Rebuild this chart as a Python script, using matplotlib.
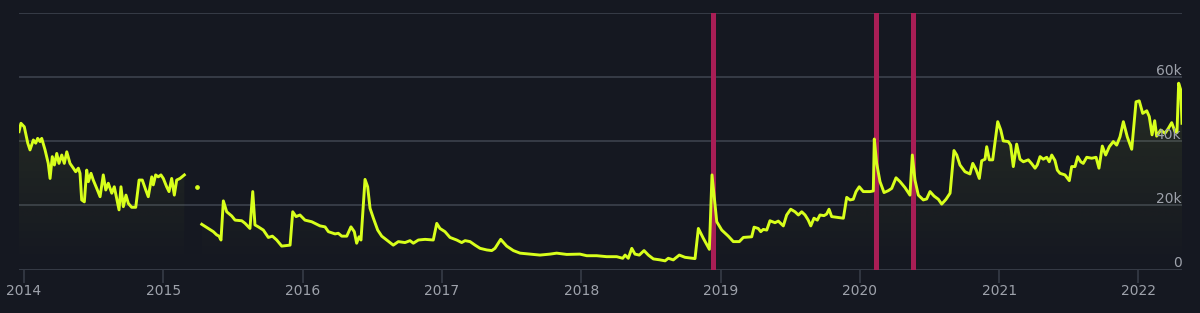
import numpy as np
import matplotlib
matplotlib.use("Agg")
import matplotlib.pyplot as plt
import matplotlib.transforms as mtransforms

# ---- data (decimal years, values in thousands) ----
seg1_t = [2013.964, 2013.978, 2014.002, 2014.027, 2014.043, 2014.067, 2014.084, 2014.098, 2014.115, 2014.127,
          2014.151, 2014.174, 2014.187, 2014.203, 2014.218, 2014.235, 2014.251, 2014.271, 2014.289, 2014.307,
          2014.330, 2014.354, 2014.371, 2014.390, 2014.402, 2014.414, 2014.433, 2014.450, 2014.462, 2014.481,
          2014.497, 2014.522, 2014.546, 2014.569, 2014.587, 2014.605, 2014.630, 2014.648, 2014.665, 2014.682,
          2014.696, 2014.713, 2014.732, 2014.749, 2014.773, 2014.802, 2014.826, 2014.849, 2014.874, 2014.892,
          2014.917, 2014.928, 2014.945, 2014.964, 2014.983, 2015.000, 2015.024, 2015.041, 2015.060, 2015.079,
          2015.096, 2015.120, 2015.151]
seg1_v = [43, 45.6, 44.5, 39.4, 37.3, 40.4, 39.4, 40.9, 39.9, 40.9,
          37.3, 33.1, 28.4, 35.2, 32.6, 36.2, 33.1, 35.7, 33.1, 36.7,
          33.1, 31.6, 30.5, 31.6, 30.0, 21.7, 21.1, 31.0, 27.4, 30.0,
          27.9, 25.3, 22.7, 29.5, 24.8, 26.9, 23.8, 25.8, 22.2, 18.6,
          25.8, 19.6, 23.2, 20.6, 19.4, 19.4, 27.9, 27.9, 24.8, 22.7,
          28.9, 26.4, 29.5, 28.9, 29.5, 28.4, 25.8, 24.3, 28.4, 23.2,
          27.9, 28.4, 29.5]

lone_t = [2015.240]
lone_v = [25.8]

seg2_t = [2015.276, 2015.323, 2015.359, 2015.383, 2015.400, 2015.414, 2015.431, 2015.455, 2015.491, 2015.515,
          2015.563, 2015.587, 2015.622, 2015.642, 2015.658, 2015.682, 2015.718, 2015.754, 2015.783, 2015.814,
          2015.850, 2015.910, 2015.929, 2015.953, 2015.981, 2016.017, 2016.065, 2016.125, 2016.161, 2016.185,
          2016.233, 2016.256, 2016.281, 2016.317, 2016.347, 2016.371, 2016.388, 2016.405, 2016.419, 2016.448,
          2016.467, 2016.484, 2016.508, 2016.539, 2016.568, 2016.604, 2016.651, 2016.687, 2016.735, 2016.771,
          2016.795, 2016.831, 2016.879, 2016.938, 2016.963, 2016.986, 2017.022, 2017.058, 2017.106, 2017.142,
          2017.166, 2017.202, 2017.238, 2017.274, 2017.322, 2017.358, 2017.381, 2017.422, 2017.465, 2017.513,
          2017.561, 2017.633, 2017.704, 2017.776, 2017.824, 2017.896, 2017.991, 2018.040, 2018.111, 2018.183,
          2018.255, 2018.298, 2018.315, 2018.338, 2018.363, 2018.386, 2018.417, 2018.451, 2018.482, 2018.518,
          2018.566, 2018.602, 2018.625, 2018.661, 2018.704, 2018.745, 2018.817, 2018.841, 2018.877, 2018.920,
          2018.939, 2018.973, 2019.009, 2019.056, 2019.092, 2019.135, 2019.164, 2019.224, 2019.241, 2019.271,
          2019.289, 2019.307, 2019.332, 2019.355, 2019.391, 2019.415, 2019.451, 2019.475, 2019.504, 2019.535,
          2019.559, 2019.583, 2019.607, 2019.630, 2019.648, 2019.671, 2019.695, 2019.714, 2019.743, 2019.762,
          2019.779, 2019.798, 2019.834, 2019.882, 2019.906, 2019.930, 2019.953, 2019.973, 2019.996, 2020.025,
          2020.073, 2020.097, 2020.104, 2020.121, 2020.145, 2020.174, 2020.205, 2020.229, 2020.260, 2020.289,
          2020.325, 2020.360, 2020.377, 2020.396, 2020.420, 2020.456, 2020.480, 2020.504, 2020.533, 2020.564,
          2020.588, 2020.619, 2020.648, 2020.676, 2020.696, 2020.719, 2020.755, 2020.791, 2020.811, 2020.834,
          2020.858, 2020.875, 2020.899, 2020.911, 2020.930, 2020.954, 2020.990, 2021.012, 2021.030, 2021.066,
          2021.083, 2021.102, 2021.126, 2021.150, 2021.174, 2021.210, 2021.234, 2021.258, 2021.274, 2021.294,
          2021.317, 2021.342, 2021.360, 2021.378, 2021.401, 2021.418, 2021.437, 2021.473, 2021.504, 2021.521,
          2021.545, 2021.564, 2021.586, 2021.604, 2021.629, 2021.665, 2021.696, 2021.717, 2021.741, 2021.765,
          2021.791, 2021.820, 2021.844, 2021.868, 2021.892, 2021.920, 2021.952, 2021.983, 2022.006, 2022.031,
          2022.060, 2022.078, 2022.098, 2022.117, 2022.131, 2022.160, 2022.191, 2022.215, 2022.239, 2022.263,
          2022.277, 2022.289, 2022.304, 2022.313]
seg2_v = [14.1, 12.8, 11.8, 10.8, 10.4, 9.2, 21.4, 18.0, 16.7, 15.4,
          15.2, 14.4, 12.8, 24.3, 13.9, 13.3, 12.3, 10.0, 10.4, 9.2,
          7.3, 7.6, 18.0, 16.5, 17.0, 15.4, 14.9, 13.6, 13.3, 11.8,
          11.1, 11.3, 10.4, 10.4, 13.3, 11.8, 8.2, 10.2, 9.2, 28.1,
          25.8, 19.1, 16.0, 12.3, 10.4, 9.2, 7.6, 8.7, 8.4, 9.0,
          8.2, 9.2, 9.4, 9.2, 14.4, 12.8, 11.8, 10.0, 9.2, 8.4,
          9.0, 8.7, 7.6, 6.6, 6.1, 5.9, 6.6, 9.4, 7.3, 5.9,
          5.1, 4.8, 4.5, 4.8, 5.1, 4.7, 4.8, 4.3, 4.3, 4.0,
          4.0, 3.5, 4.5, 3.5, 6.6, 4.8, 4.5, 5.9, 4.5, 3.3,
          3.0, 2.7, 3.5, 3.0, 4.5, 3.8, 3.4, 12.8, 9.7, 6.3,
          29.5, 14.9, 12.3, 10.4, 8.7, 8.7, 10.0, 10.2, 13.2, 12.8,
          11.8, 12.5, 12.3, 15.2, 14.6, 15.1, 13.6, 17.0, 18.8, 18.0,
          17.0, 18.0, 17.0, 15.4, 13.6, 16.0, 15.4, 17.0, 16.8, 17.3,
          18.8, 16.5, 16.3, 16.0, 22.5, 21.7, 21.9, 24.3, 25.8, 24.3,
          24.3, 24.5, 40.7, 33.1, 27.4, 24.0, 24.6, 25.3, 28.6, 27.4,
          25.5, 23.2, 35.7, 27.9, 23.2, 21.7, 22.0, 24.3, 22.9, 21.9,
          20.4, 21.9, 23.8, 37.1, 35.7, 32.6, 30.5, 29.8, 33.1, 31.2,
          28.4, 33.9, 34.4, 38.3, 34.2, 34.2, 46.1, 43.5, 40.1, 39.9,
          38.8, 32.1, 39.1, 34.4, 33.6, 34.2, 33.0, 31.6, 32.6, 35.2,
          34.4, 35.0, 33.6, 35.7, 34.0, 31.0, 30.0, 29.5, 27.7, 32.1,
          32.1, 35.2, 33.6, 33.1, 35.0, 34.7, 35.0, 31.6, 38.5, 35.7,
          38.3, 39.9, 38.8, 41.4, 46.1, 41.4, 37.5, 52.3, 52.6, 48.7,
          49.5, 47.7, 42.0, 46.4, 41.6, 43.5, 42.5, 44.0, 45.8, 43.0,
          42.7, 58.1, 56.0, 45.6]

event_t = [2018.950, 2020.120, 2020.386]

year_ticks = [2014, 2015, 2016, 2017, 2018, 2019, 2020, 2021, 2022]
y_ticks = [0, 20000, 40000, 60000, 80000]
y_labels = ["0", "20k", "40k", "60k", ""]

# ---- style ----
BG = "#151821"
GRID = "#363b47"
LINE = "#d8ff1c"
EVENT = "#a81e55"
TXT = "#9ea2ab"

fig = plt.figure(figsize=(12, 3.13), dpi=100, facecolor=BG)
ax = fig.add_axes([19/1200, 43.5/313, (1182-19)/1200, (269.5-13)/313])
ax.set_facecolor(BG)
ax.set_xlim(2013.964, 2022.313)
ax.set_ylim(0, 80000)

for s in ax.spines.values():
    s.set_visible(False)

for yv in y_ticks:
    ax.axhline(yv, color=GRID, lw=1.4, zorder=1)

for et in event_t:
    ax.axvspan(et - 0.017, et + 0.017, ymin=0, ymax=1, color=EVENT, lw=0, zorder=2)

# vertical gradient (faint green near the top of the data, fading to nothing at 0)
grad = np.zeros((256, 2, 4))
grad[..., 0] = 0.80
grad[..., 1] = 0.95
grad[..., 2] = 0.25
alpha_col = np.linspace(0.0, 0.10, 256)[:, None]
grad[..., 3] = np.repeat(alpha_col, 2, axis=1)

for tt, vv in [(seg1_t, seg1_v), (seg2_t, seg2_v)]:
    t = np.array(tt)
    v = np.array(vv) * 1000
    poly = ax.fill_between(t, 0, v, color="none", lw=0, zorder=1.5)
    im = ax.imshow(grad, extent=[t[0], t[-1], 0, 60000], origin="lower",
                   aspect="auto", interpolation="bilinear", zorder=1.5)
    im.set_clip_path(poly.get_paths()[0], transform=ax.transData)
    ax.plot(t, v, color=LINE, lw=2.1, solid_joinstyle="round", zorder=3)

ax.set_xlim(2013.964, 2022.313)
ax.set_ylim(0, 80000)

ax.plot(lone_t, np.array(lone_v) * 1000, "o", color=LINE, ms=2.4, zorder=3)

ax.set_yticks([])
ax.set_xticks(year_ticks)
ax.set_xticklabels([str(y) for y in year_ticks], color=TXT, fontsize=10)
ax.tick_params(axis="x", length=9.5, width=1.2, color=GRID, pad=0.8)

trans = mtransforms.blended_transform_factory(ax.transAxes, ax.transData)
for yv, lab in zip(y_ticks, y_labels):
    if lab:
        ax.text(0.9995, yv + 700, lab, transform=trans, ha="right", va="baseline",
                color=TXT, fontsize=10, zorder=4)

fig.savefig("out.png", dpi=100, facecolor=BG)
